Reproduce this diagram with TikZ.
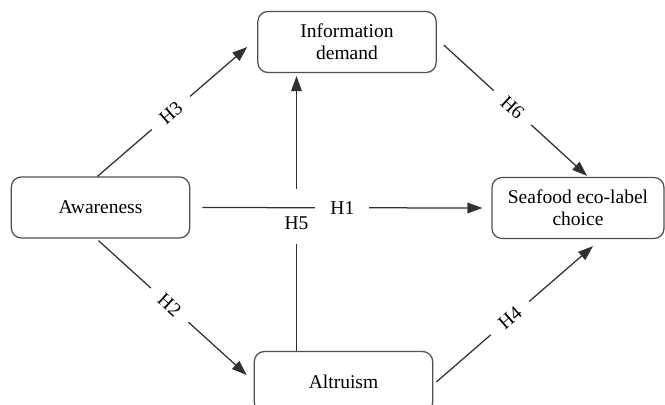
\documentclass[tikz,border=0pt]{standalone}
\usepackage{fontspec}
\setmainfont{Liberation Serif}
\usepackage{tikz}
\usetikzlibrary{positioning,arrows.meta,calc}
\definecolor{boxline}{HTML}{505050}
\definecolor{pathline}{HTML}{303030}

\begin{document}
\begin{tikzpicture}[x=0.6pt,y=-0.6pt,font=\fontsize{11.7}{13.2}\selectfont,
    construct/.style={draw=boxline,rounded corners=6pt,line width=0.75pt,minimum width=107pt,minimum height=36.6pt,align=center,inner sep=2pt},
    hyp/.style={draw=pathline,line width=0.75pt,-{Triangle[length=9pt,width=6.4pt]}},
    hlabel/.style={fill=white,inner xsep=8pt,inner ysep=1pt}]
      \useasboundingbox (0,0) rectangle (665,404);
      \clip (0,0) rectangle (665,404);
      \node[construct] (aware) at (100.5,207.5) {Awareness};
      \node[construct] (info) at (347,42) {Information\\demand};
      \node[construct,minimum width=103.2pt] (seafood) at (578,208) {Seafood eco-label\\choice};
      \node[construct] (altru) at (343.5,382) {Altruism};
      \draw[hyp] ($(aware.north)+(-3,0)$) -- node[hlabel,sloped,pos=0.49] {H3} ($(info.west)+(-10,5)$);
      \draw[hyp] ($(info.east)+(7,3)$) -- node[hlabel,sloped,pos=0.48] {H6} ($(seafood.north)+(9,-1)$);
      \draw[hyp] ($(aware.south)+(-2,2)$) -- node[hlabel,sloped,pos=0.48] {H2} ($(altru.west)+(-7,-7)$);
      \draw[hyp] ($(altru.east)+(3,0)$) -- node[hlabel,sloped,pos=0.47] {H4} ($(seafood.south)+(15,7)$);
      \draw[hyp] ($(altru.north)+(-47,0)$) -- node[pos=0.44,anchor=base,fill=white,inner xsep=1pt,inner ysep=0pt,text height=24.6pt,text depth=8.4pt] {H5} ($(info.south)+(-50.5,3)$);
      \draw[hyp] ($(aware.east)+(12,0)$) -- node[hlabel,inner xsep=9pt,pos=0.5] {H1} ($(seafood.west)+(-9,0)$);
    \end{tikzpicture}
\end{document}
